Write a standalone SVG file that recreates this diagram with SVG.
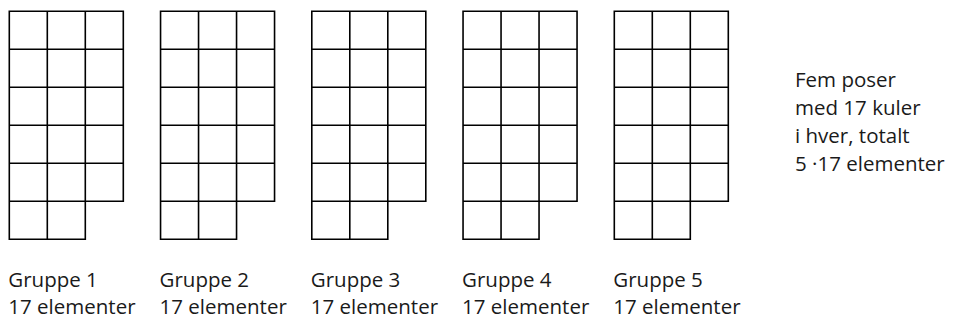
<svg xmlns="http://www.w3.org/2000/svg" xmlns:xlink="http://www.w3.org/1999/xlink" width="953" height="320" viewBox="0 0 953 320">
<style>
.grid{fill:none;stroke:#000;stroke-width:1.6;stroke-linecap:square}
.t{font-family:"Open Sans","Liberation Sans",sans-serif;font-size:20.5px;fill:#1a1a1a}
</style>
<defs>
<path id="g17" class="grid" d="M0,0V228M38,0V228M76,0V228M114,0V190M0,0H114M0,38H114M0,76H114M0,114H114M0,152H114M0,190H114M0,228H76"/>
</defs>
<rect width="953" height="320" fill="#fff"/>
<g id="gruppe1" transform="translate(9.3,11.3)"><use xlink:href="#g17" href="#g17"/><text class="t" x="-1" y="275.7">Gruppe 1</text><text class="t" x="-1" y="302.8">17 elementer</text></g>
<g id="gruppe2" transform="translate(160.55,11.3)"><use xlink:href="#g17" href="#g17"/><text class="t" x="-1" y="275.7">Gruppe 2</text><text class="t" x="-1" y="302.8">17 elementer</text></g>
<g id="gruppe3" transform="translate(311.8,11.3)"><use xlink:href="#g17" href="#g17"/><text class="t" x="-1" y="275.7">Gruppe 3</text><text class="t" x="-1" y="302.8">17 elementer</text></g>
<g id="gruppe4" transform="translate(463.05,11.3)"><use xlink:href="#g17" href="#g17"/><text class="t" x="-1" y="275.7">Gruppe 4</text><text class="t" x="-1" y="302.8">17 elementer</text></g>
<g id="gruppe5" transform="translate(614.3,11.3)"><use xlink:href="#g17" href="#g17"/><text class="t" x="-1" y="275.7">Gruppe 5</text><text class="t" x="-1" y="302.8">17 elementer</text></g>
<g id="connectors"/>
<g id="note">
<text class="t" x="795" y="86.7">Fem poser</text>
<text class="t" x="795" y="115">med 17 kuler</text>
<text class="t" x="795" y="143">i hver, totalt</text>
<text class="t" x="795" y="171">5 ·17 elementer</text>
</g>
</svg>
